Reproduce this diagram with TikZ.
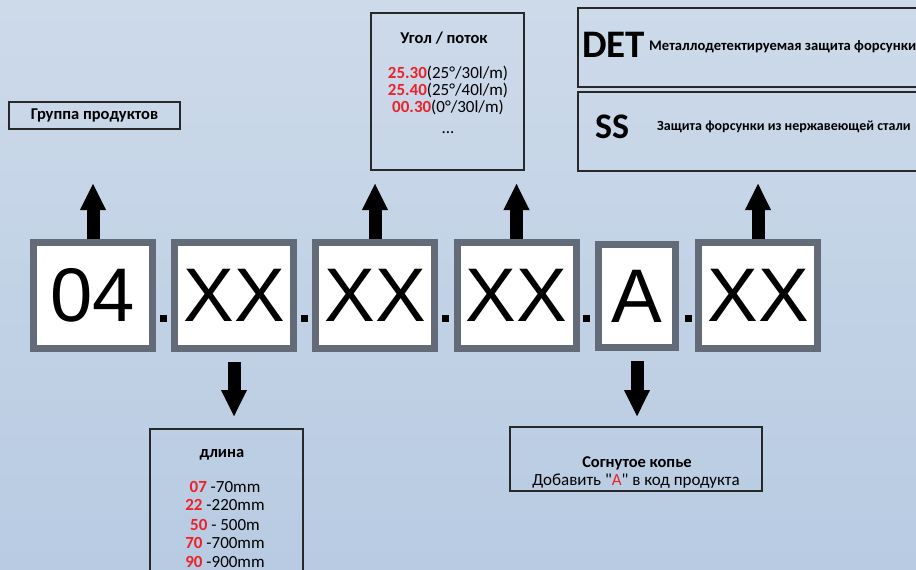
\documentclass[tikz,border=0pt]{standalone}
\usepackage{fontspec}
\setmainfont{Carlito}[Ligatures=TeXOff]
\newfontfamily\arialfont{Liberation Sans}
\usetikzlibrary{arrows.meta}
\definecolor{bgtop}{RGB}{205,218,234}
\definecolor{bgbot}{RGB}{184,203,226}
\definecolor{codegray}{RGB}{99,107,120}
\definecolor{codered}{RGB}{235,35,40}
\definecolor{boxline}{RGB}{40,40,40}
\newcommand{\rd}[1]{\textcolor{codered}{\textbf{#1}}}

\begin{document}
\begin{tikzpicture}[x=1pt,y=-1pt,
  codebox/.style={draw=codegray,line width=7pt,fill=white,minimum width=119pt,
    minimum height=106pt,inner sep=0pt,font=\arialfont\fontsize{76}{76}\selectfont},
  infobox/.style={draw=boxline,line width=1.2pt,inner sep=0pt},
  txt/.style={inner sep=0pt,anchor=base},
  blockarrow/.style={line width=13pt,-{Triangle[width=24pt,length=27pt]}},
  dotsq/.style={fill=black,minimum size=7pt,inner sep=0pt}]
% фон
\shade[top color=bgtop,bottom color=bgbot] (0,0) rectangle (916,570);
\useasboundingbox (0,0) rectangle (916,570);
% код изделия
\node[codebox] (c1) at (93,295.5) {04};
\node[codebox] (c2) at (234,295.5) {XX};
\node[codebox] (c3) at (375,295.5) {XX};
\node[codebox] (c4) at (516.5,295.5) {XX};
\node[codebox,minimum width=77pt,minimum height=103pt] (c5) at (637,296) {A};
\node[codebox] (c6) at (758,295.5) {XX};
% точки-разделители
\foreach \x/\n in {163/1,304/2,445/3,586/4,688/5}
  \node[dotsq] (p\n) at (\x,318) {};
% стрелки
\coordinate (uptip) at (0,183);
\coordinate (downtip) at (0,417);
\foreach \c in {c1,c3,c4,c6}
  \draw[blockarrow] (\c.north) -- (\c.north |- uptip);
\foreach \c in {c2,c5}
  \draw[blockarrow] ([yshift=-10pt]\c.south) -- (\c.south |- downtip);
% рамки описаний
\node[infobox,minimum width=171pt,minimum height=27pt,
  font=\bfseries\fontsize{16.5}{20}\selectfont] (grp) at (94.5,115.5) {Группа продуктов};
\node[infobox,minimum width=153pt,minimum height=157pt] (ang) at (447.5,91.5) {};
\node[infobox,minimum width=352pt,minimum height=79pt] (det) at (754,47.5) {};
\node[infobox,minimum width=352pt,minimum height=79pt] (ss) at (754,131.5) {};
\node[infobox,minimum width=153pt,minimum height=171pt] (len) at (226.5,514.5) {};
\node[infobox,minimum width=252pt,minimum height=64pt] (bend) at (636,459) {};
% угол / поток
\node[txt,font=\bfseries\fontsize{16.5}{20}\selectfont] (angT) at (444,43) {Угол / поток};
\foreach \y/\a/\b [count=\i] in {78/25.30/{(25°/30l/m)},95/25.40/{(25°/40l/m)},112/00.30/{(0°/30l/m)}}
  \node[txt,font=\fontsize{17}{20}\selectfont] (ang\i) at (448,\y) {\rd{\a}\b};
\node[txt,font=\fontsize{17}{20}\selectfont] (angD) at (448,133) {...};
% длина
\node[txt,font=\bfseries\fontsize{16.5}{20}\selectfont] (lenT) at (222,457) {длина};
\foreach \y/\a/\b [count=\i] in {492/07/-70mm,510/22/-220mm,530/50/- 500m,548/70/-700mm,567/90/-900mm}
  \node[txt,font=\fontsize{17}{20}\selectfont] (len\i) at (225,\y) {\rd{\a} \b};
% согнутое копье
\node[txt,font=\bfseries\fontsize{16.5}{20}\selectfont] (bendT) at (637,467) {Согнутое копье};
\node[txt,font=\fontsize{17}{20}\selectfont] (bendS) at (636,485)
  {Добавить "\textcolor{codered}{A}" в код продукта};
% DET / SS
\node[txt,anchor=base west,font=\bfseries\fontsize{39}{40}\selectfont] (detK) at (582,57) {DET};
\node[txt,anchor=base west,font=\bfseries\fontsize{14.6}{16}\selectfont] (detS) at (649,50)
  {Металлодетектируемая защита форсунки};
\node[txt,anchor=base west,font=\bfseries\fontsize{36}{40}\selectfont] (ssK) at (595,138) {SS};
\node[txt,anchor=base west,font=\bfseries\fontsize{14}{16}\selectfont] (ssS) at (657,130)
  {Защита форсунки из нержавеющей стали};
\end{tikzpicture}
\end{document}
